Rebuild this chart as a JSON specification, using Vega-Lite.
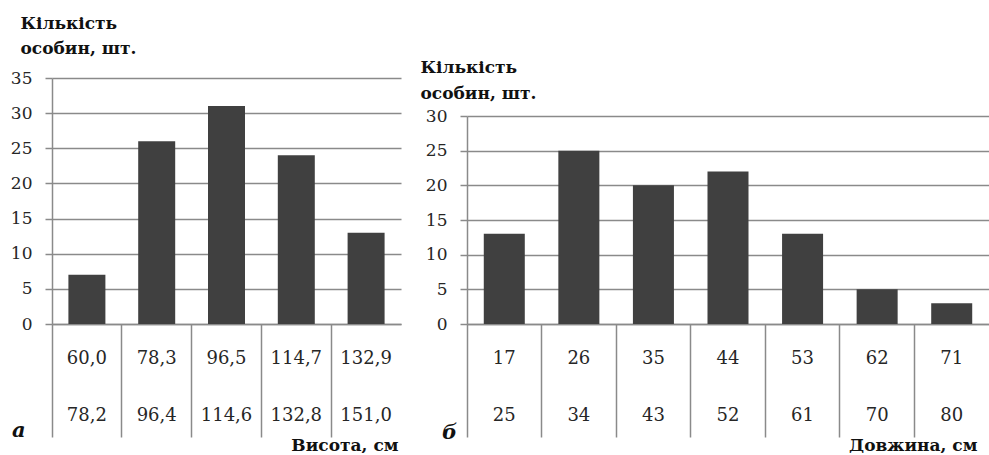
{
  "$schema": "https://vega.github.io/schema/vega-lite/v6.json",
  "background": "white",
  "padding": {"left": 10, "top": 14, "right": 0, "bottom": 0},
  "bounds": "flush",
  "spacing": 66,
  "config": {
    "font": "DejaVu Serif",
    "view": {"stroke": null},
    "axis": {
      "domainColor": "#8a8a8a",
      "domainWidth": 1.5,
      "tickColor": "#8a8a8a",
      "tickWidth": 1.5,
      "gridColor": "#8a8a8a",
      "gridWidth": 1.5,
      "labelFont": "DejaVu Serif",
      "labelColor": "#262626",
      "titleFont": "DejaVu Serif",
      "titleColor": "#111111",
      "titleFontWeight": "bold",
      "titleFontSize": 17
    },
    "title": {"font": "DejaVu Serif", "fontSize": 21, "fontWeight": "bold", "fontStyle": "italic", "color": "#111111"}
  },
  "hconcat": [
    {
      "width": 349,
      "height": 246,
      "title": {"text": "а", "orient": "bottom", "anchor": "start", "frame": "group", "baseline": "alphabetic", "offset": 0, "dx": -40, "dy": -16},
      "data": {
        "values": [
          {"interval": "60,0–78,2", "count": 7},
          {"interval": "78,3–96,4", "count": 26},
          {"interval": "96,5–114,6", "count": 31},
          {"interval": "114,7–132,8", "count": 24},
          {"interval": "132,9–151,0", "count": 13}
        ]
      },
      "mark": {"type": "bar", "color": "#404040", "width": {"band": 0.53}},
      "encoding": {
        "x": {
          "field": "interval",
          "type": "nominal",
          "sort": null,
          "scale": {"paddingInner": 0, "paddingOuter": 0},
          "axis": {
            "labelExpr": "split(datum.label, '–')",
            "labelAngle": 0,
            "labelFontSize": 18,
            "labelBaseline": "alphabetic",
            "labelLineHeight": 57,
            "labelPadding": -74,
            "bandPosition": 0,
            "tickSize": 113,
            "title": "Висота, см",
            "titleX": 346,
            "titleY": 126,
            "titleAlign": "right",
            "titleBaseline": "alphabetic"
          }
        },
        "y": {
          "field": "count",
          "type": "quantitative",
          "scale": {"domain": [0, 35], "nice": false},
          "axis": {
            "values": [0, 5, 10, 15, 20, 25, 30, 35],
            "tickSize": 7,
            "labelFontSize": 17,
            "labelPadding": 13,
            "grid": true,
            "title": ["Кількість", "особин, шт."],
            "titleAngle": 0,
            "titleAlign": "left",
            "titleBaseline": "alphabetic",
            "titleLineHeight": 25,
            "titleX": -32,
            "titleY": -50
          }
        }
      }
    },
    {
      "width": 522,
      "height": 246,
      "title": {"text": "б", "orient": "bottom", "anchor": "start", "frame": "group", "baseline": "alphabetic", "offset": 0, "dx": -25, "dy": -14},
      "data": {
        "values": [
          {"interval": "17–25", "count": 13},
          {"interval": "26–34", "count": 25},
          {"interval": "35–43", "count": 20},
          {"interval": "44–52", "count": 22},
          {"interval": "53–61", "count": 13},
          {"interval": "62–70", "count": 5},
          {"interval": "71–80", "count": 3}
        ]
      },
      "mark": {"type": "bar", "color": "#404040", "width": {"band": 0.55}},
      "encoding": {
        "x": {
          "field": "interval",
          "type": "nominal",
          "sort": null,
          "scale": {"paddingInner": 0, "paddingOuter": 0},
          "axis": {
            "labelExpr": "split(datum.label, '–')",
            "labelAngle": 0,
            "labelFontSize": 18,
            "labelBaseline": "alphabetic",
            "labelLineHeight": 57,
            "labelPadding": -74,
            "bandPosition": 0,
            "tickSize": 113,
            "title": "Довжина, см",
            "titleX": 510,
            "titleY": 126,
            "titleAlign": "right",
            "titleBaseline": "alphabetic"
          }
        },
        "y": {
          "field": "count",
          "type": "quantitative",
          "scale": {"domain": [0, 30], "nice": false, "range": [246, 38]},
          "axis": {
            "values": [0, 5, 10, 15, 20, 25, 30],
            "tickSize": 7,
            "labelFontSize": 17,
            "labelPadding": 13,
            "grid": true,
            "title": ["Кількість", "особин, шт."],
            "titleAngle": 0,
            "titleAlign": "left",
            "titleBaseline": "alphabetic",
            "titleLineHeight": 26,
            "titleX": -47,
            "titleY": -6
          }
        }
      }
    }
  ]
}
